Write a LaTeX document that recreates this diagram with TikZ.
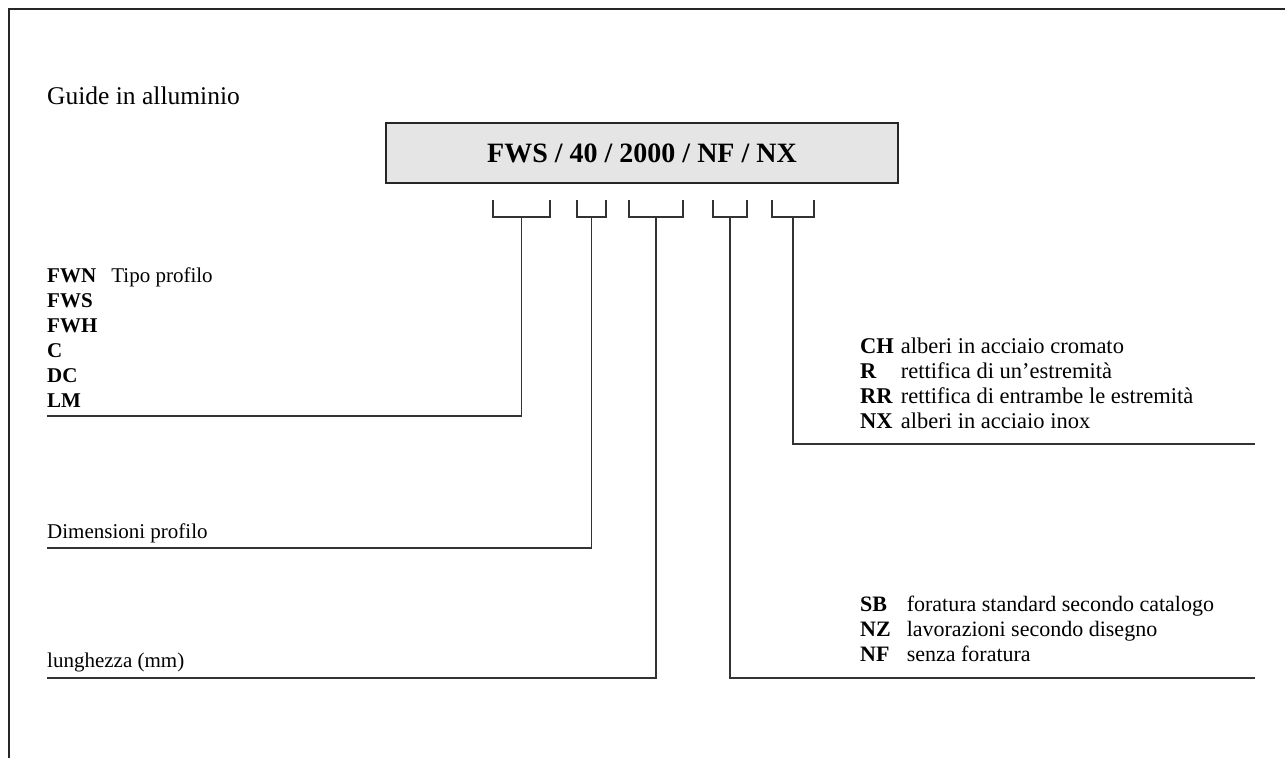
\documentclass[tikz,border=0pt]{standalone}
\usepackage{fontspec}
\setmainfont{Liberation Serif}

\begin{document}
\begin{tikzpicture}[x=1pt, y=-1pt,
    txt/.style={font=\fontsize{21}{25}\selectfont, inner sep=0pt, anchor=base west},
    brk/.style={inner sep=0pt, minimum height=17pt},
    ln/.style={line width=1.5pt, draw=black!80}
]
    \useasboundingbox (0,0) rectangle (1285,758);

    % Frame
    \draw[line width=2pt, black!85] (9,758) |- (1285,9);

    % Title
    \node[txt, font=\fontsize{25.5}{30}\selectfont] (title) at (47,104) {Guide in alluminio};

    % Code box
    \node[draw, line width=1.5pt, draw=black!85, fill=gray!20, minimum width=512pt, minimum height=60pt,
          font=\fontsize{28}{32}\selectfont\bfseries] (code) at (642,153) {FWS / 40 / 2000 / NF / NX};

    % Brackets
    \node[brk, minimum width=57pt] (b1) at (521.5,208.5) {};
    \node[brk, minimum width=29pt] (b2) at (591.5,208.5) {};
    \node[brk, minimum width=54pt] (b3) at (656,208.5) {};
    \node[brk, minimum width=34pt] (b4) at (730,208.5) {};
    \node[brk, minimum width=42pt] (b5) at (793,208.5) {};
    \foreach \b in {b1,b2,b3,b4,b5}
        \draw[ln] (\b.north west) |- (\b.south east) -- (\b.north east);

    % Line ends
    \coordinate (e1) at (47,416);
    \coordinate (e2) at (47,548);
    \coordinate (e3) at (47,678);
    \coordinate (e4) at (1255,678);
    \coordinate (e5) at (1255,444);

    % Leaders
    \draw[ln] (b1.south) |- (e1);
    \draw[ln] (b2.south) |- (e2);
    \draw[ln] (b3.south) |- (e3);
    \draw[ln] (b4.south) |- (e4);
    \draw[ln] (b5.south) |- (e5);

    % Left texts
    \node[txt] (tipo) at (47,407) {\begin{tabular}[b]{@{}l@{\hspace{14pt}}l@{}}
        \textbf{FWN} & Tipo profilo\\
        \textbf{FWS} & \\
        \textbf{FWH} & \\
        \textbf{C} & \\
        \textbf{DC} & \\
        \textbf{LM} &
    \end{tabular}};
    \node[txt] (dim) at (47,538) {Dimensioni profilo};
    \node[txt] (lung) at (47,667) {lunghezza (mm)};

    % Right texts
    \node[txt, font=\fontsize{22.5}{25}\selectfont] (alberi) at (860,428) {\begin{tabular}[b]{@{}l@{\hspace{7pt}}l@{}}
        \textbf{CH} & alberi in acciaio cromato\\
        \textbf{R} & rettifica di un'estremità\\
        \textbf{RR} & rettifica di entrambe le estremità\\
        \textbf{NX} & alberi in acciaio inox
    \end{tabular}};
    \node[txt, font=\fontsize{22}{25}\selectfont] (fora) at (860,661) {\begin{tabular}[b]{@{}l@{\hspace{16pt}}l@{}}
        \textbf{SB} & foratura standard secondo catalogo\\
        \textbf{NZ} & lavorazioni secondo disegno\\
        \textbf{NF} & senza foratura
    \end{tabular}};
\end{tikzpicture}
\end{document}
